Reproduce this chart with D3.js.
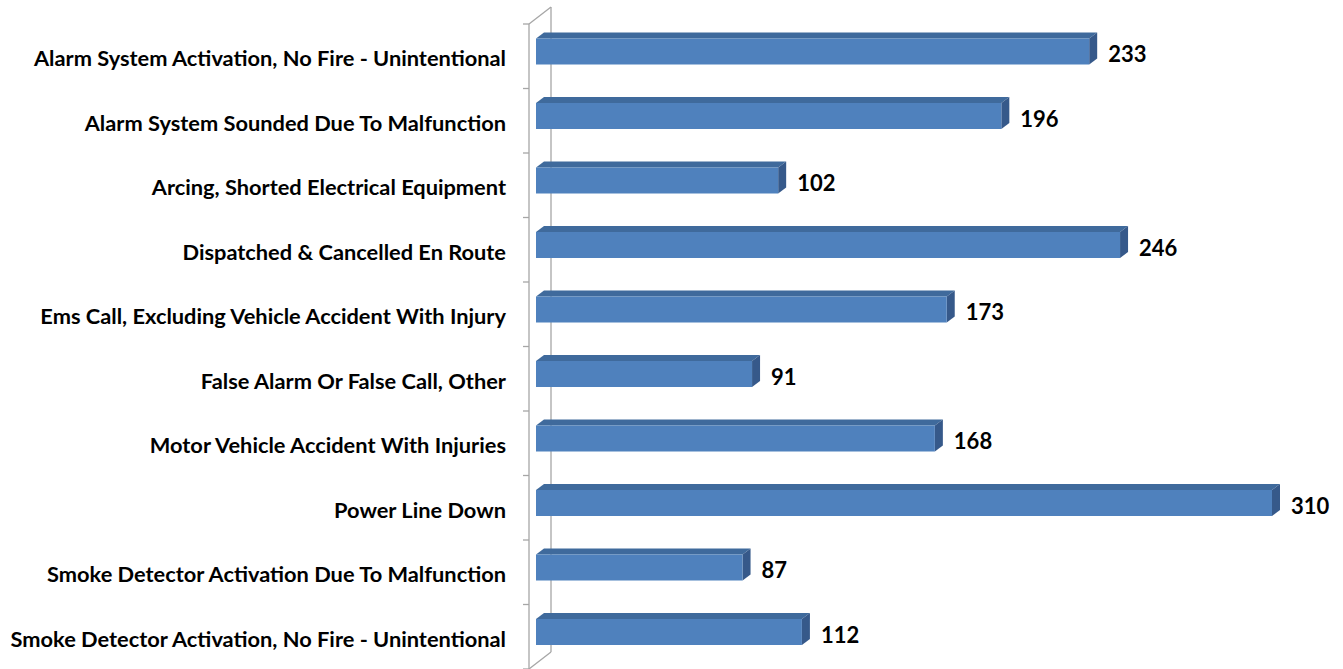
<!DOCTYPE html>
<html>
<head>
<meta charset="utf-8">
<script src="https://cdn.jsdelivr.net/npm/d3@7"></script>
<style>
	body { margin: 0; background: #fff; }
	svg text { font-family: Lato, "Open Sans", sans-serif; font-weight: 700; fill: #000; }
</style>
</head>
<body>
<div id="chart"></div>
<script>
var categories = [
	"Alarm System Activation, No Fire - Unintentional",
	"Alarm System Sounded Due To Malfunction",
	"Arcing, Shorted Electrical Equipment",
	"Dispatched & Cancelled En Route",
	"Ems Call, Excluding Vehicle Accident With Injury",
	"False Alarm Or False Call, Other",
	"Motor Vehicle Accident With Injuries",
	"Power Line Down",
	"Smoke Detector Activation Due To Malfunction",
	"Smoke Detector Activation, No Fire - Unintentional"
];
var values = [233, 196, 102, 246, 173, 91, 168, 310, 87, 112];

var chart = {
	width: 1343,
	height: 669,
	axisX: 529,
	top: 24,
	bottom: 669,
	wallDx: 22,
	wallDy: 17,
	barX0: 536,
	barX1: 1272,
	barOffset: 14.5,
	barH: 26,
	depthDx: 8,
	depthDy: 6
};

var svg = d3.select('#chart')
	.append('svg')
	.attr('width', chart.width)
	.attr('height', chart.height);

var xScale = d3.scaleLinear()
	.domain([0, 310])
	.range([chart.barX0, chart.barX1]);

var yScale = d3.scaleBand()
	.domain(categories)
	.range([chart.top, chart.bottom])
	.paddingInner(0)
	.paddingOuter(0);

// walls: front axis, back wall edge, top and floor diagonals
var axisG = svg.append('g')
	.attr('stroke', '#a6a6a6')
	.attr('stroke-width', 1.3)
	.attr('fill', 'none');

axisG.append('line')
	.attr('x1', chart.axisX).attr('x2', chart.axisX)
	.attr('y1', chart.top).attr('y2', chart.bottom);

axisG.append('line')
	.attr('x1', chart.axisX + chart.wallDx).attr('x2', chart.axisX + chart.wallDx)
	.attr('y1', chart.top - chart.wallDy).attr('y2', chart.bottom - chart.wallDy);

axisG.append('line')
	.attr('x1', chart.axisX).attr('y1', chart.top)
	.attr('x2', chart.axisX + chart.wallDx).attr('y2', chart.top - chart.wallDy);

axisG.append('line')
	.attr('x1', chart.axisX).attr('y1', chart.bottom)
	.attr('x2', chart.axisX + chart.wallDx).attr('y2', chart.bottom - chart.wallDy);

var tickYs = categories.map(function (c) { return yScale(c); }).concat([chart.bottom]);
axisG.selectAll('.tick')
	.data(tickYs)
	.enter().append('line')
	.attr('class', 'tick')
	.attr('x1', chart.axisX - 6).attr('x2', chart.axisX)
	.attr('y1', function (d) { return d; })
	.attr('y2', function (d) { return d; });

// bars
var bars = svg.selectAll('.bar')
	.data(categories.map(function (c, i) { return { name: c, value: values[i] }; }))
	.enter().append('g')
	.attr('class', 'bar');

function y0(d) { return yScale(d.name) + chart.barOffset; }

// top face
bars.append('path')
	.attr('fill', '#3f6a9c')
	.attr('d', function (d) {
		var x0 = xScale(0), x1 = xScale(d.value), y = y0(d);
		return 'M' + x0 + ',' + y +
			'L' + (x0 + chart.depthDx) + ',' + (y - chart.depthDy) +
			'L' + (x1 + chart.depthDx) + ',' + (y - chart.depthDy) +
			'L' + x1 + ',' + y + 'Z';
	});

// side face
bars.append('path')
	.attr('fill', '#36598a')
	.attr('d', function (d) {
		var x1 = xScale(d.value), y = y0(d);
		return 'M' + x1 + ',' + y +
			'L' + (x1 + chart.depthDx) + ',' + (y - chart.depthDy) +
			'L' + (x1 + chart.depthDx) + ',' + (y - chart.depthDy + chart.barH) +
			'L' + x1 + ',' + (y + chart.barH) + 'Z';
	});

// front face
bars.append('rect')
	.attr('fill', '#4f81bd')
	.attr('x', xScale(0))
	.attr('y', y0)
	.attr('width', function (d) { return xScale(d.value) - xScale(0); })
	.attr('height', chart.barH);

// value labels
bars.append('text')
	.attr('x', function (d) { return xScale(d.value) + chart.depthDx + 11; })
	.attr('y', function (d) { return y0(d) + chart.barH / 2 + 2; })
	.attr('dominant-baseline', 'central')
	.style('font-size', '22px')
	.text(function (d) { return d.value; });

// category labels
svg.selectAll('.cat')
	.data(categories)
	.enter().append('text')
	.attr('class', 'cat')
	.attr('x', 506)
	.attr('y', function (d) { return yScale(d) + chart.barOffset + chart.barH / 2 + 6; })
	.attr('text-anchor', 'end')
	.attr('dominant-baseline', 'central')
	.style('font-size', '21.8px')
	.text(function (d) { return d; });
</script>
</body>
</html>
